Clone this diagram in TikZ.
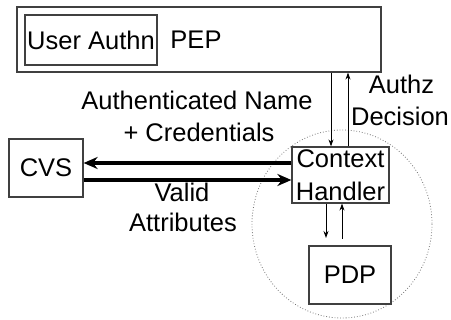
\documentclass[tikz,border=0pt]{standalone}
\usepackage{fontspec}
\setmainfont{Liberation Sans}
\usetikzlibrary{arrows.meta}
\begin{document}
\begin{tikzpicture}[x=1pt,y=-1pt,font=\fontsize{25.5}{33}\selectfont,
  box/.style={draw=black!75,line width=1.2pt,inner sep=0,align=center},
  lbl/.style={inner sep=0,anchor=base},
  thinarrow/.style={line width=0.9pt,-{Stealth[length=7pt,width=5pt]}},
  thickarrow/.style={line width=4pt,-{Stealth[length=14pt,width=12pt]}}]
\useasboundingbox (0,0) rectangle (451,320);
\draw[black!55,dotted,line width=0.8pt] (342,224) ellipse (90 and 94);
\node[box,minimum width=364pt,minimum height=65pt] (pep) at (199,39.5) {};
\node[box,minimum width=132pt,minimum height=50pt] (ua) at (91,40) {User Authn};
\node[lbl] (peplbl) at (196,49) {PEP};
\node[box,minimum width=74pt,minimum height=58pt] (cvs) at (46,168) {CVS};
\node[box,minimum width=97pt,minimum height=56pt] (ch) at (340.5,175) {Context\\Handler};
\node[box,minimum width=82pt,minimum height=58pt] (pdp) at (350,275) {PDP};
% PEP <-> Context Handler
\coordinate (chn1) at ([xshift=-9.5pt]ch.north);
\coordinate (chn2) at ([xshift=7.5pt]ch.north);
\draw[thinarrow] (chn1 |- pep.south) -- (chn1);
\draw[thinarrow] (chn2) -- (chn2 |- pep.south);
% Context Handler <-> CVS
\coordinate (chw1) at ([yshift=12pt]ch.west);
\coordinate (chw2) at ([yshift=-5pt]ch.west);
\draw[thickarrow] (chw1) -- (cvs.east |- chw1);
\draw[thickarrow] (cvs.east |- chw2) -- (chw2);
% Context Handler <-> PDP
\coordinate (chs1) at ([xshift=-14.5pt]ch.south);
\coordinate (chs2) at ([xshift=1.5pt]ch.south);
\coordinate (d1) at (chs1 |- 0,238);
\coordinate (d2) at (chs2 |- 0,239);
\draw[thinarrow] (chs1) -- (d1);
\draw[thinarrow] (d2) -- (chs2);
% labels
\node[lbl] (l1) at (197,110) {Authenticated Name};
\node[lbl] (l2) at (199,142) {+ Credentials};
\node[lbl] (l3) at (401.5,94) {Authz};
\node[lbl] (l4) at (400,126) {Decision};
\node[lbl] (l5) at (182,202) {Valid};
\node[lbl] (l6) at (183,232) {Attributes};
\end{tikzpicture}
\end{document}
